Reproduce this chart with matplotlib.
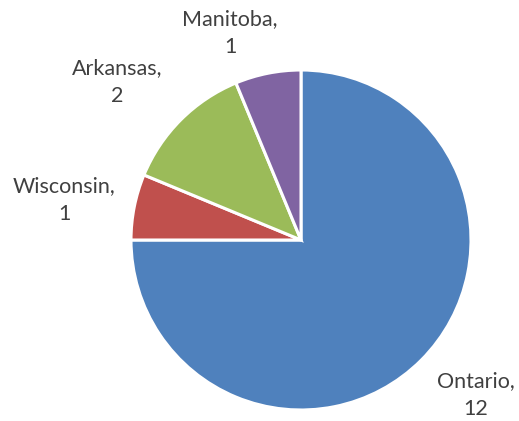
import matplotlib
matplotlib.use("Agg")
import matplotlib.pyplot as plt

categories = ["Ontario", "Wisconsin", "Arkansas", "Manitoba"]
values = [12, 1, 2, 1]
colors = ["#4F81BD", "#C0504D", "#9BBB59", "#8064A2"]

W, H = 519, 421
fig = plt.figure(figsize=(W / 100, H / 100), dpi=100)
cx, cy, r = 301, 240, 170
ax = fig.add_axes([(cx - r) / W, (H - cy - r) / H, 2 * r / W, 2 * r / H])
ax.pie(values, colors=colors, startangle=90, counterclock=False,
       wedgeprops=dict(edgecolor="white", linewidth=2.2), radius=1)
ax.set_xlim(-1, 1)
ax.set_ylim(-1, 1)
ax.set_aspect("equal")
ax.axis("off")

label_pos = {"Ontario": (476, 395), "Wisconsin": (64, 200),
             "Arkansas": (117, 82), "Manitoba": (230, 33)}
for cat, val in zip(categories, values):
    px, py = label_pos[cat]
    fig.text(px / W, 1 - py / H, f"{cat},\n{val}", ha="center", va="center",
             fontsize=15.5, color="#404040", family="Lato", linespacing=1.45)

fig.savefig("out.png", dpi=100)
